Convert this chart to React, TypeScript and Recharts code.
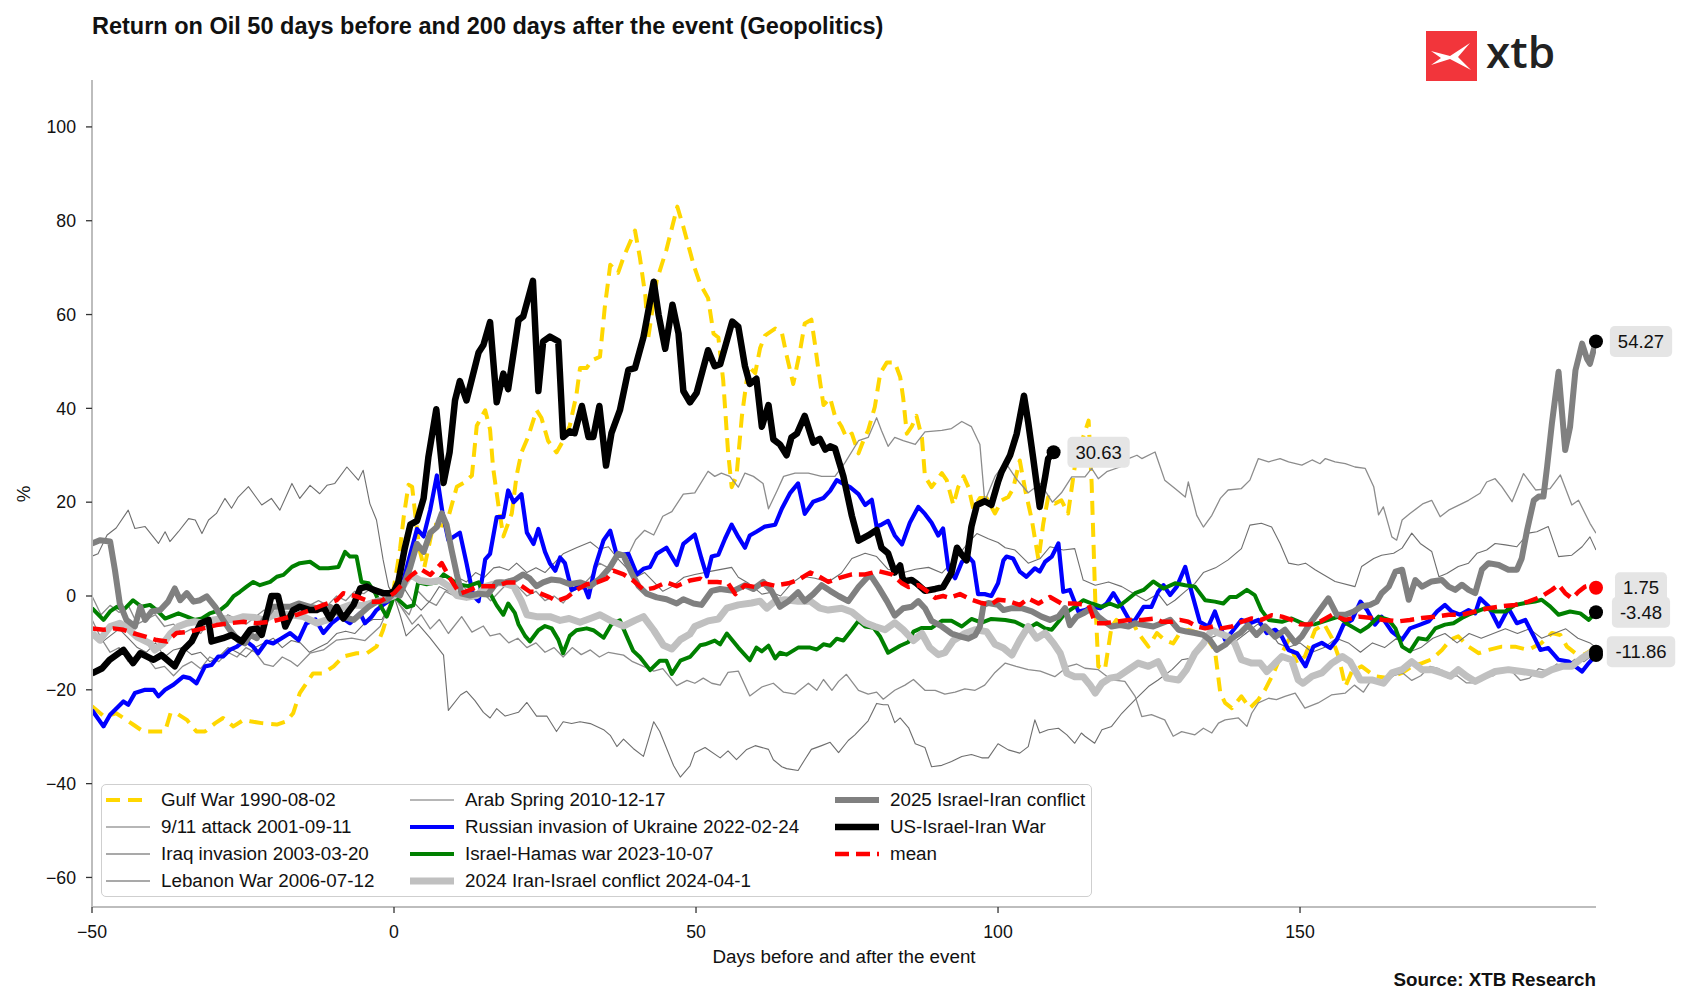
import { LineChart, Line, XAxis, YAxis, Legend, ReferenceDot } from 'recharts'

type Pt = [number, number]

const xTicks = [-50, 0, 50, 100, 150]
const yTicks = [-60, -40, -20, 0, 20, 40, 60, 80, 100]

const gulfWar: Pt[] = [
  [-50, -23.5], [-48, -25.7], [-46, -25], [-44.8, -26], [-43.2, -27.4], [-41.5, -28.9], [-39.8, -28.9], [-37.9, -28.9],
  [-37, -25], [-36, -25], [-34.3, -26.4], [-32.7, -28.9], [-31.3, -28.9], [-29.6, -27.1], [-28.3, -26], [-26.6, -27.8],
  [-24.9, -26.4], [-23.8, -26.7], [-21.9, -27.1], [-19.4, -27.4], [-17.8, -26.7], [-16.7, -25], [-15.6, -20.7], [-14.5, -18.6],
  [-13.4, -16.5], [-11.7, -16.5], [-10, -15], [-8.4, -12.9], [-6.2, -12.2], [-4.5, -12.2], [-2.9, -10.8], [-1.8, -7.2],
  [-0.7, -2.3], [0, 2], [1, 10], [1.6, 16.8], [2.4, 23.7], [3, 23.3], [3.5, 17.6], [4.2, 10], [5, 6], [6, 12], [6.5, 15.2],
  [8, 15], [9, 16.8], [10.4, 23.3], [11.5, 24.1], [12.9, 25.7], [13.7, 36.3], [15.1, 39.6], [15.9, 35.5], [16.4, 27.4],
  [17.3, 19.2], [18.1, 12.7], [19.5, 17.6], [20.3, 25.7], [21.1, 30.6], [22.2, 33.9], [23.6, 39.6], [24.4, 38], [25.5, 33.1],
  [26.9, 30.6], [28, 33.1], [29.1, 36.3], [30.2, 42.9], [30.8, 48.6], [31.9, 48.6], [32.7, 50.2], [34.1, 51], [34.9, 61.6],
  [35.8, 70.6], [37.1, 68.9], [38, 72.2], [39.9, 77.9], [40.7, 72.2], [41.6, 64.1], [42.1, 55.1], [43.5, 67.3], [45.1, 73.8],
  [46.9, 83], [47.9, 78.7], [49.6, 70.6], [50.7, 66.5], [52, 63.5], [52.9, 55.9], [53.7, 55.1], [54.5, 46], [55.3, 30.8],
  [55.9, 23.2], [56.7, 25.5], [57.6, 38.4], [58.7, 49], [59.8, 47.5], [60.6, 52.8], [61.4, 55.5], [63.1, 57], [64.2, 56.2],
  [65, 51.3], [66.1, 45.2], [67.2, 52.1], [68, 58.1], [69.1, 58.9], [69.7, 53.6], [70.5, 46], [71.1, 40.7], [72.2, 42.2],
  [73, 38.4], [74.1, 36.1], [74.9, 33.8], [75.8, 34.6], [76.9, 30.4], [77.7, 33.1], [78.5, 35.3], [79.6, 40.3], [80.5, 47.5],
  [81.6, 49.8], [82.9, 49.8], [83.8, 46.7], [84.3, 42.2], [84.9, 34.6], [85.7, 36.1], [86.5, 38.4], [87.4, 33.8], [87.9, 25.5],
  [89, 23.2], [90.7, 26.2], [91.5, 24.7], [92.6, 19.4], [93.4, 23.2], [94.3, 25.5], [95.1, 23.2], [95.9, 18.6], [97, 20.9],
  [98.1, 20.9], [99.5, 17.6], [100.6, 20.4], [101.7, 21.1], [102.5, 22.9], [103.6, 28.9], [104.5, 22.6], [105.6, 16.2],
  [106.7, 7.7], [107.5, 15.5], [108.3, 21.1], [109.4, 19.7], [110.5, 20.4], [111.6, 17.6], [112.7, 27.5], [114.1, 33.9],
  [115, 37.4], [115.5, 24], [116.1, -0.8], [116.6, -15], [117.7, -15.7], [118.8, -6.5], [119.6, -5.1], [120.7, -6.5],
  [122.1, -5.1], [123.2, -7.9], [124.9, -10.8], [126.3, -7.9], [127.6, -9.4], [129, -10.1], [130.1, -7.9], [131.5, -7.2],
  [133.2, -7.9], [134.8, -9.4], [135.9, -11.5], [136.8, -20.7], [137.6, -22.8], [138.7, -23.9], [140.3, -21.4], [141.7, -23.9],
  [143.1, -22.1], [144.2, -20], [145.6, -16.5], [147, -12.2], [148.1, -9.4], [149.5, -14.3], [150.8, -12.9], [152.5, -7.2],
  [154, -6], [155.3, -9], [156.4, -13], [157.5, -19.3], [158.6, -16], [160.2, -15], [162.4, -17.1], [164.5, -17.5],
  [166.9, -16.4], [168.5, -15], [170.2, -14.3], [171.8, -13.5], [173.5, -11.5], [174.9, -9.3], [176.2, -8.6], [177.9, -10.8],
  [179.6, -12.2], [181.2, -11.5], [183.4, -10.8], [185.6, -10.8], [187.8, -11.5], [190, -10], [191.7, -7.9], [193.1, -8.3],
  [194.2, -10.8], [195.6, -12.2], [197, -12.5], [198.3, -11.5],
]

const attack911: Pt[] = [
  [-50, 8.5], [-49, 9], [-47.5, 13], [-46, 14.5], [-44, 18.3], [-42.9, 14.4], [-41.2, 14.8], [-39, 11.2], [-37.9, 13.7],
  [-37.1, 11.6], [-35.7, 13.7], [-34, 16.5], [-32.9, 16.2], [-31.8, 13.3], [-30.7, 16.2], [-29.4, 17.6], [-28, 20.8],
  [-26.9, 18.7], [-25.8, 21.1], [-24.1, 23.3], [-21.9, 19.4], [-20.3, 20.8], [-18.9, 18.3], [-16.9, 24], [-15.6, 20.8],
  [-13.9, 23.6], [-12.3, 21.8], [-11.1, 23.6], [-9.8, 24], [-7.8, 27.5], [-5.9, 24.7], [-5.1, 26.8], [-4, 19.7], [-2.9, 16.2],
  [-1.8, 7.7], [-0.9, 2], [0, 0], [1, -4], [2, -8.5], [4, -6], [6, -9], [8.2, -12.6], [9, -24.4], [11, -21.1], [12, -20.3],
  [13.4, -22.3], [14.8, -24.8], [15.9, -26], [17, -24], [18.4, -25.6], [20.6, -24.8], [22, -22.7], [23.6, -25.6], [25.3, -25.6],
  [26.9, -28.9], [28, -26.8], [29.4, -27.2], [30.8, -26.8], [32.5, -27.2], [34.7, -28.5], [35.8, -29.7], [36.9, -32.1],
  [38, -30.5], [39.6, -32.5], [41.3, -34.2], [43, -26.8], [44, -28.9], [46.3, -36.2], [47.4, -38.6], [49, -36.2], [49.8, -33.4],
  [51.5, -32.3], [54, -34.5], [55.3, -33], [56.7, -34.9], [58.4, -32.7], [59.8, -31.9], [62, -32.7], [62.8, -34.9],
  [64.2, -36.4], [65, -36.8], [66.9, -37.2], [68, -34.9], [69.1, -32.7], [70.8, -31.9], [72.2, -31.2], [73.6, -33.4],
  [75.2, -30.8], [76.3, -29.6], [77.4, -28.1], [78.5, -26.6], [79.9, -22.9], [81, -23.2], [81.8, -23.2], [82.9, -27],
  [83.8, -26], [85.2, -28.1], [86.3, -31.5], [87.9, -32.3], [89, -36.4], [90.7, -36.1], [92.3, -35.3], [94, -34.2],
  [95.6, -33.8], [97.3, -34.5], [98.4, -34.5], [100, -31.5], [101.7, -32.8], [103.6, -33.5], [105, -32.1], [106.1, -26.4],
  [106.9, -29.2], [108.3, -28.5], [110, -28.2], [111.4, -29.6], [112.7, -31.4], [113.8, -29.2], [114.4, -29.9], [116, -31.4],
  [117.2, -28.5], [118.8, -27.8], [120.5, -25], [122.7, -22.1], [124.9, -19.3], [126.5, -17.9], [128.8, -15.7], [130.4, -13.6],
  [131.8, -13.3], [133.2, -10.8], [135, -9], [137, -8], [139, -10], [141, -8], [143, -6], [144.8, -7.2], [146.4, -10.1],
  [148, -11], [150, -10], [152, -12], [154, -11], [156, -9], [158, -10], [160, -12], [162, -10], [164, -11], [166, -9],
  [168, -12], [170, -11], [172, -9], [174, -8], [176, -10], [178, -8], [180, -9], [182, -8], [184, -7], [186, -8], [188, -7],
  [190, -9], [192, -8], [194, -7], [196, -9], [198, -10], [199, -11],
]

const iraqInvasion: Pt[] = [
  [-50, 0], [-48.5, -4], [-47, -2], [-45.5, -3.5], [-44, -2], [-42.5, -6], [-41, -5], [-39.5, -4], [-38, -6.5], [-36.5, -6],
  [-35, -8], [-33.5, -7], [-32, -8], [-30.5, -5], [-29, -6], [-27.5, -4], [-26, -5], [-24.5, -6], [-23, -4.5], [-21.5, -3],
  [-20, -4], [-18.5, -3], [-17, -2], [-15.5, -3.5], [-14, -2], [-12.5, -1], [-11, -2], [-9.5, 0], [-8, -1], [-6.5, 1],
  [-5, 0.5], [-3.5, 2], [-2, 1], [0, 0], [1, -2], [2.5, -4], [4, 1], [5.5, -1], [7, -2], [8.5, 1], [10, 0], [11.5, 2],
  [13, 0], [14.5, 1], [16, -1], [17.5, 1], [19, 3], [20.5, 2], [22, 0], [23.5, 1], [25, -1], [26.5, 0], [28, -1.5], [29.5, 1],
  [31, 2], [32.5, 4], [34, 7], [35.5, 6], [37, 9], [38.5, 8], [40, 12], [41.5, 14], [43, 13], [44.5, 17], [46, 18],
  [47.9, 21.7], [49.8, 22], [52, 26.6], [53.1, 25.5], [54.2, 26.2], [55.6, 25.5], [57, 23.2], [58.1, 26.2], [59.5, 25.5],
  [61.1, 24], [62, 18.6], [63.4, 22.4], [64.5, 25.5], [66.4, 26.2], [68.6, 26.2], [70.8, 25.5], [73, 25.5], [74.7, 28.5],
  [76.9, 33.1], [78.5, 33.8], [79.9, 38], [80.7, 35.3], [81.8, 31.9], [82.9, 33.8], [84.3, 33.1], [86.3, 32.3], [87.9, 35],
  [90.7, 35.3], [92.3, 35.7], [94, 37.2], [95.6, 36.1], [97, 32.3], [97.8, 20.2], [99.5, 25.5], [101.2, 28.5], [103, 25],
  [105, 22], [107, 24], [109, 20], [110.5, 22], [112.2, 25.4], [114.4, 25.4], [115.5, 27.2], [116.6, 25], [118, 26.5],
  [120.2, 27.5], [121.6, 29.3], [123, 30], [123.8, 29.3], [126, 30.7], [127.6, 24.7], [129.3, 22.9], [131, 21.1],
  [131.5, 24.3], [132.9, 17.2], [134, 14.7], [135.4, 17.2], [136.8, 20.8], [138.1, 22.6], [140.3, 22.9], [141.7, 24.7],
  [143.1, 29.3], [144.8, 28.6], [146.7, 29.3], [148.1, 28.6], [150.3, 27.9], [152, 29], [153.3, 28.2], [154.2, 29.3],
  [155.8, 28.6], [157.5, 28.2], [159.1, 27.5], [160.8, 27.2], [162.2, 23.3], [163, 17.3], [163.8, 19], [165.2, 12.6],
  [166, 11.9], [166.9, 16.2], [168.2, 17.6], [170.4, 19.7], [171.8, 20.4], [173.2, 16.9], [174.6, 18.3], [176.8, 19.7],
  [177.9, 20.4], [179.8, 21.9], [180.9, 24.3], [182.3, 25], [183.4, 23.3], [185.1, 20.1], [187, 26.1], [189, 22.6],
  [191.4, 22.9], [193.1, 25.8], [195, 19.4], [196.1, 20.4], [198, 15.5], [199, 13.4],
]

const lebanonWar: Pt[] = [
  [-50, -5], [-48.5, -9], [-47, -12], [-45.5, -11], [-44, -14], [-42.5, -12.5], [-41, -13], [-39.5, -15.5], [-38, -15],
  [-36.5, -17], [-35, -15], [-33.5, -14], [-32, -15.5], [-30.5, -13], [-29, -14], [-27.5, -12], [-26, -13], [-24.5, -11],
  [-23, -12], [-21.5, -14.5], [-20, -15], [-18.5, -13], [-17, -14], [-16, -15], [-13.9, -12.2], [-11.7, -11.5], [-9.5, -9.4],
  [-7, -9], [-4.8, -9.5], [-2.3, -6.5], [0, 0], [1.5, -3], [3, -6], [4.5, -4], [6, -7], [7.5, -5], [9, -8], [11.2, -4.4],
  [12.9, -7.7], [14.8, -6.4], [15.9, -8.5], [17.5, -8], [19, -10], [20.5, -9], [22, -11], [23.5, -10], [25, -12], [26.5, -11],
  [28, -13], [29.5, -11], [31, -12.5], [32.5, -11.5], [34, -13], [35.5, -12], [38, -12.6], [39.5, -14], [41.3, -15], [43, -16],
  [44.5, -15.5], [46.8, -19.1], [48.5, -18], [49.8, -18.6], [51.2, -17.5], [52.6, -18.6], [54, -19], [55.3, -16.3], [57, -16],
  [58.9, -21.3], [60.9, -19.4], [62.8, -18.6], [64.5, -20.5], [66.4, -20.9], [68.6, -18.6], [70, -20.1], [71.1, -17.8],
  [72.5, -20.1], [73.6, -18.2], [74.9, -16.7], [76.9, -20.1], [78.5, -20.9], [79.9, -20.5], [81, -22], [82.9, -20.1],
  [84.6, -19], [86, -17.8], [87.9, -20.1], [89.6, -20.1], [91.2, -20.9], [92.9, -20.5], [94.5, -19.8], [96.2, -20.1],
  [97.8, -19], [99.5, -16.3], [101.2, -14.3], [103, -15], [105, -15.7], [107, -16], [109.4, -17.2], [111.6, -15], [113, -14.5],
  [114.4, -15.4], [116.6, -15.7], [118.8, -17.9], [121, -18.2], [122.7, -21.4], [123.8, -25.7], [125.4, -25.3], [127.6, -26.4],
  [129, -29.9], [130.4, -28.9], [132.6, -29.6], [134, -28.2], [135.4, -29.2], [136.5, -27.1], [137.6, -26.4], [139.8, -26],
  [141.2, -27.8], [142, -25], [143.1, -22.8], [144.8, -21.8], [146.1, -22.1], [147.5, -21.4], [149.2, -20.7], [150.8, -23.9],
  [153, -22.8], [155.2, -21.1], [157.5, -20.7], [159, -19], [160.5, -20.5], [162, -17.5], [164, -18.5], [165.5, -17],
  [167, -16.4], [168.5, -18], [170, -17], [171.5, -15], [173, -15.5], [174.5, -17.5], [176, -17], [177.5, -18.5], [179, -18.5],
  [180.5, -17], [182, -17], [183.5, -15.5], [185, -16], [186.5, -18], [188, -17.5], [189.5, -15.5], [191, -16], [192.5, -14.5],
  [194, -15], [195.5, -13.5], [197, -14], [198, -13], [199, -13.5],
]

const arabSpring: Pt[] = [
  [-50, -8], [-48.5, -10], [-47, -8.5], [-45.5, -7], [-44, -9], [-42.5, -11], [-41, -12], [-39.5, -10], [-38, -13],
  [-36.5, -11.5], [-35, -11], [-33.5, -12.5], [-32, -12], [-30.5, -14], [-29, -13], [-27.5, -11], [-26, -12], [-24.5, -13],
  [-23, -11], [-21.5, -10], [-20, -9], [-18.5, -11], [-17, -9.5], [-15.5, -10], [-14, -12], [-12.5, -11], [-11, -10],
  [-9.5, -8], [-8, -7.5], [-6.5, -8], [-5, -6], [-3.5, -5], [-2, -5], [0, 0], [1.5, 2], [3, -1], [4.5, -3], [6, -1], [7.5, 2],
  [9, 1], [10.5, 4], [12, 3], [13.5, 5], [15, 4], [16.5, 6], [17.5, 6.2], [19, 5.5], [20.3, 7], [22, 5], [23.5, 6], [25, 5],
  [26.5, 7], [28, 9], [30.2, 10.3], [32.5, 11.5], [34, 10], [35.5, 10.5], [37, 8], [38.5, 6], [40, 4], [41.5, 5], [43, 3],
  [44.5, 1], [46, 2], [48, 4], [49.8, 4.6], [52.6, 5.3], [55.9, 6.1], [57, 4], [58.7, 2.7], [60.9, 0.4], [62.5, 0.8], [64, 0],
  [65.8, 2.7], [67.5, 4.2], [69.7, 3.8], [71.9, 3], [74.1, 4.9], [75.8, 8], [78, 9.1], [79.9, 8.4], [81.8, 5.7], [84.1, 4.9],
  [86.3, 5.7], [88.5, 6.1], [90.7, 4.9], [93, 8], [95.1, 11.4], [96.5, 13.3], [98.4, 12.2], [100, 11.4], [101.2, 10.3],
  [102.8, 9.8], [105, 7], [107, 8], [108.6, 10.5], [110.8, 9.8], [112.7, 10.1], [114.1, 3.4], [116.1, 2.3], [118.3, 3],
  [120.5, 2], [122.5, 0.5], [124.5, -1], [126.5, 0.5], [128, -2], [129.3, -0.9], [131, 1], [132.6, 2.7], [134, 5], [136, 6],
  [138.1, 7.7], [140.3, 10.1], [141.7, 15.1], [143.6, 15.5], [145.3, 14.7], [146.7, 11.2], [148.1, 7], [149.7, 6.6],
  [150.9, 7], [152.5, 5.6], [155.8, 3.1], [159.1, 2], [160.2, 6.3], [162.2, 8], [163.5, 8.7], [165.5, 9.1], [166.9, 10.2],
  [168.5, 13.4], [169.9, 11.2], [171.8, 9.5], [173, 4.1], [174.3, 4.8], [176.2, 6.3], [177.9, 7], [179.3, 9.1], [180.9, 9.8],
  [182.3, 11.2], [184, 10.9], [185.9, 10.5], [187.8, 13.4], [189.2, 13.7], [191.1, 14.8], [192.8, 8.4], [195, 8.7],
  [196.7, 10.5], [198, 12.6], [199, 9.8],
]

const russiaUkraine: Pt[] = [
  [-50, -24.3], [-48.1, -27.8], [-47, -25.3], [-44.8, -22.5], [-44, -23.2], [-42.9, -20.7], [-41.2, -20], [-39.8, -20],
  [-39, -21.4], [-37.9, -20], [-36.5, -18.9], [-34.9, -17.2], [-33.8, -17.5], [-32.7, -18.6], [-31.3, -15], [-30.2, -14.7],
  [-29.1, -12.9], [-28.3, -12.9], [-27.2, -11.5], [-26, -10.8], [-24.7, -9.4], [-23.3, -10.8], [-22.5, -12.2], [-21.1, -9.7],
  [-20, -10.1], [-18.6, -9], [-17.2, -7.9], [-15.8, -9.4], [-14.5, -5.8], [-13, -5], [-11.7, -7.9], [-10.3, -5.8], [-8.9, -4.4],
  [-7.3, -5.8], [-5.6, -3.7], [-4.8, -5.8], [-3.7, -4.4], [-2.9, -3], [-1.8, -1.9], [-0.7, -0.9], [0, 0], [0.4, -0.3], [1.5, 3],
  [2.5, 8], [3.8, 14.3], [4.9, 12.7], [6, 18.4], [7.1, 25.7], [8, 18], [9, 11.9], [10.9, 13.5], [12, 7], [13.1, 0.1],
  [14, -1.1], [15.1, 7.8], [15.9, 9], [17, 16.8], [18.1, 16.8], [18.9, 22.5], [19.8, 20], [21.1, 21.7], [22, 13.5],
  [23.1, 11.1], [23.9, 14.3], [25, 9.4], [25.8, 7], [26.7, 5.4], [27.5, 8.2], [28.3, 7], [29.4, 1.3], [30.8, 2.1], [31.6, 1.7],
  [32.2, -0.3], [33.3, 6.2], [34.7, 11.9], [35.8, 13.9], [36.9, 8.6], [38.8, 9], [40.2, 4.6], [41.3, 5.8], [42.4, 6.2],
  [43.5, 9], [45.1, 10.3], [46.8, 6.6], [47.9, 11.1], [49.8, 13.1], [50.9, 8], [51.8, 4.2], [52.6, 8.4], [53.7, 8.8],
  [54.8, 12.2], [55.9, 15.2], [57, 12.6], [58.1, 10.3], [58.9, 12.9], [60, 13.7], [61.4, 14.8], [63.1, 15.2], [64.2, 18.6],
  [65.6, 22], [66.9, 24], [68, 17.5], [69.4, 20.1], [71.1, 20.9], [72.2, 22.4], [73.3, 24.7], [74.4, 23.9], [75.5, 23.2],
  [76.9, 21.7], [78, 19.4], [79.1, 20.5], [79.9, 14.8], [80.7, 15.2], [81.8, 16], [82.9, 12.9], [84.1, 11], [85.4, 15.6],
  [86.8, 19], [87.9, 17.5], [89, 15.6], [90.1, 12.9], [90.9, 14.4], [91.8, 5.7], [92.9, 3.8], [94, 7.2], [95.1, 8.4],
  [95.9, 7.2], [96.7, 0.4], [97.8, 0.4], [98.9, 0], [100, 2.7], [100.9, 7.6], [101.4, 8.4], [102.5, 8], [103.6, 5.2],
  [104.7, 4.1], [106.1, 5.9], [106.9, 5.2], [107.8, 7.3], [108.9, 8.4], [110, 11.2], [110.8, 0.9], [111.9, 1.3], [113.3, -3.3],
  [114.4, -3], [115.5, -2.3], [116.9, -2.6], [118, -1.6], [119.1, 0.6], [120.5, -2.3], [121.9, -5.5], [122.7, -5.1],
  [124.1, -2.3], [125.4, -2.3], [126.5, 0.9], [127.4, 2.3], [128.5, 0.2], [129.6, 2], [131, 6.2], [132.1, 0.6], [133.4, -5.5],
  [134.8, -6.5], [135.9, -3.3], [137.6, -9.4], [139, -7.2], [140.3, -5.1], [141.7, -5.8], [143.1, -5.1], [144.5, -7.9],
  [145.9, -7.2], [147, -8.7], [148.1, -11.5], [149.5, -12.2], [150.9, -15], [152.2, -10.8], [153.6, -10], [155, -11.1],
  [156.1, -9.3], [157.2, -6.1], [158.6, -5.1], [160, -1.2], [161.1, -3], [162.4, -6.1], [163.5, -4.4], [165.2, -7.6],
  [166.9, -9.3], [168.2, -6.9], [169.9, -6.1], [171.3, -5.4], [172.7, -3.3], [174, -1.9], [175.1, -3.3], [176.5, -4],
  [177.9, -3], [179, -3.7], [179.8, -0.5], [181.2, -2.2], [182.9, -6.5], [184.5, -2.6], [185.9, -5.8], [187.3, -5.1],
  [188.7, -8.6], [189.8, -11.5], [191.1, -11.1], [192.8, -13.6], [194.5, -14], [196.7, -16.1], [197.8, -14.3], [199, -12.6],
]

const israelHamas: Pt[] = [
  [-50, -2.6], [-48.1, -5.1], [-47, -3.3], [-45.9, -2.3], [-44.8, -3], [-43.2, -0.9], [-41.8, -2.3], [-40.4, -1.9], [-39.3, -3],
  [-37.9, -4.8], [-35.7, -3.7], [-34.3, -4.4], [-33, -5.1], [-31.8, -4.8], [-30.5, -3.7], [-28.8, -3], [-27.7, -1.9],
  [-26.6, -0.1], [-25.5, 0.9], [-24.4, 2], [-23.3, 3], [-22.2, 2.3], [-20.5, 3], [-19.4, 4.1], [-18.3, 4.5], [-16.9, 6.2],
  [-15.6, 7], [-13.9, 7.3], [-12.3, 5.9], [-10.9, 5.9], [-9.2, 6.2], [-8.1, 9.4], [-7.3, 8.4], [-6.2, 8.4], [-5.4, 3],
  [-4.2, 2.7], [-3.1, 0.6], [-2, -2.6], [-1.2, -4.4], [-0.4, -1.6], [0, 0], [1, -1.1], [2.1, -2.4], [3.2, -2], [4, 2.9],
  [5.4, 2.5], [7.1, 2.9], [8.2, 4.6], [9.3, 3.7], [10.5, 2.5], [12.3, 2.1], [14, 2.9], [14.8, 0.5], [16, 0.3], [17, -2],
  [18.1, -4], [18.9, -1.6], [20, -3.6], [20.6, -6], [21.7, -8.5], [22.5, -9.7], [23.9, -7.3], [25, -6.4], [26.1, -6.9],
  [27.2, -9.3], [28, -12.2], [29.1, -8.5], [30.2, -7.3], [31.9, -6.9], [33, -7.3], [34.7, -8.9], [36, -6], [37.4, -5.2],
  [38.5, -8.5], [39.6, -11.7], [40.7, -13], [42.4, -15.8], [44, -13.8], [45.1, -13.8], [46, -16.6], [47.4, -13.8], [49, -13],
  [50.7, -10.5], [51.5, -10.3], [53.1, -9.5], [54, -10.3], [55.1, -8], [57, -11], [58.9, -13.7], [60, -11], [60.9, -11.8],
  [62, -10.6], [63.1, -13.3], [63.9, -12.1], [65, -12.5], [66.9, -11], [68.9, -11], [70, -11.4], [71.1, -10.3], [72.2, -10.6],
  [73.3, -9.1], [74.4, -9.5], [75.8, -7.2], [76.9, -5.3], [78, -6.5], [79.4, -6.8], [80.5, -8.7], [81.8, -12.1], [83.8, -10.6],
  [85.2, -9.8], [86, -7.6], [87.4, -6.8], [89, -6.8], [90.7, -5.3], [92.3, -5.3], [94, -6.5], [95.6, -4.9], [97.3, -5.7],
  [98.9, -4.9], [101.2, -5.1], [102.8, -5.5], [103.9, -6.2], [105, -6.9], [106.4, -5.8], [107.8, -6.9], [108.9, -7.2],
  [110, -5.5], [111.1, -3.7], [112.7, -2.3], [114.1, -0.9], [115.5, -1.6], [117.2, -2.3], [118.5, -1.6], [119.9, -2.3],
  [121.3, -0.9], [122.7, 0.6], [124.1, 1.3], [125.7, 3.1], [127.4, 1.6], [129.3, 2.7], [131, 2.3], [132.6, 2], [134.3, -0.9],
  [135.9, -1.2], [137.3, -1.6], [138.4, -0.2], [139.5, -0.2], [141.2, 1.3], [142.5, 0.2], [143.6, -3], [144.8, -5.1],
  [147, -5.5], [148.6, -4.8], [150.9, -6.1], [152.5, -6], [154.7, -5.1], [156.4, -4.4], [158, -6.1], [160, -7.6],
  [161.3, -6.5], [163, -4.4], [164.7, -5.1], [165.8, -6.9], [166.9, -10.8], [168.2, -11.8], [169.6, -9], [171, -9.3],
  [172.4, -6.9], [174, -6.1], [175.4, -5.8], [176.8, -4.7], [177.9, -4], [179.3, -3.3], [180.7, -2.6], [182.3, -3.3],
  [184, -3.3], [185.6, -1.9], [187.3, -1.5], [188.9, -1.2], [190, -0.8], [191.4, -2.2], [192.8, -4], [194.7, -3.3],
  [196.4, -3.7], [197.8, -5.1], [199, -3.48],
]

const iranIsrael2024: Pt[] = [
  [-50, -7.9], [-48.7, -9.4], [-47, -6.5], [-45.4, -5.8], [-44, -7], [-42.6, -8.7], [-40.4, -10.1], [-39.6, -11.5],
  [-38.2, -10.1], [-37, -8], [-35.7, -6.5], [-34.3, -5.8], [-33, -5.5], [-31.6, -5.8], [-29.9, -5.1], [-28.3, -4.8],
  [-26.6, -5.1], [-24.9, -4.4], [-23, -4.6], [-21.6, -5.1], [-19.4, -3.7], [-17.2, -4], [-15, -4.4], [-12.8, -5.8],
  [-11.1, -5.1], [-9.5, -3], [-7.3, -1.9], [-5, -2], [-2.9, -1.2], [0, 0], [1.5, 2.1], [2.7, 4.6], [4.3, 3.3], [6, 3],
  [7.6, 3.3], [9, 2.1], [10.4, 0.1], [12, -0.3], [13.7, 0.1], [15.3, 2.1], [17.6, 2.9], [19.8, 2.1], [21.1, -1.1], [22, -4],
  [23.6, -4.4], [25.8, -4.4], [27.5, -5.2], [29, -4.8], [30.8, -5.6], [32.5, -4.8], [34.1, -4], [35.8, -5.2], [38, -6.4],
  [39.9, -5.2], [41.3, -4.4], [43, -7.3], [44.6, -10.5], [46, -11.3], [47.4, -9.3], [49, -8.1], [49.8, -6.5], [52, -5.3],
  [53.7, -4.9], [55.1, -2.6], [57, -1.9], [59.2, -1.5], [60.6, -1.1], [61.7, -2.6], [63.1, -1.1], [64.7, -0.8], [66.9, -1.1],
  [68.9, -1.1], [70.5, -2.6], [71.9, -3], [74.1, -2.6], [75.8, -3.4], [78, -5.7], [79.6, -6.5], [81.3, -7.2], [82.9, -5.7],
  [84.3, -7.2], [86, -9.5], [87.4, -8], [88.7, -11], [90.1, -12.5], [91.2, -12.1], [92.6, -9.5], [94.5, -8], [96.2, -7.2],
  [98.1, -7.6], [99.5, -10.3], [100.9, -11.1], [102.3, -12.6], [103.6, -9.4], [105, -6.5], [106.4, -9], [107.8, -7.9],
  [109.2, -10.1], [110.3, -12.2], [111.4, -16.5], [112.7, -17.2], [114.1, -17.2], [115.2, -18.9], [116.1, -20.7],
  [117.2, -18.6], [118.5, -17.5], [119.9, -17.2], [121.6, -15.7], [123.2, -14.3], [124.9, -15], [126.5, -14], [127.9, -17.5],
  [129.9, -17.9], [131.2, -15.7], [132.6, -12.2], [134, -10.1], [135.4, -7.2], [136.5, -7.9], [138.1, -8.7], [139.2, -10.1],
  [140.3, -13.6], [142, -14.3], [143.4, -14.3], [144.5, -16.1], [145.9, -14.3], [147, -12.9], [148.6, -13.6], [149.7, -17.9],
  [150.5, -18.6], [152, -17.1], [153.6, -16.4], [155.3, -14.3], [157, -12.9], [158.3, -14], [160, -17.9], [161.9, -17.9],
  [163.8, -18.6], [165.2, -16.4], [166.9, -15.7], [168.5, -14], [170.2, -15.7], [171.8, -15.7], [173.5, -16.4],
  [174.9, -17.1], [176.2, -15.7], [177.6, -17.1], [179, -18.2], [180.7, -17.1], [182.3, -16.1], [184.5, -15.7],
  [186.7, -16.1], [188.4, -16.4], [190, -16.8], [191.7, -15.7], [193.4, -15], [195, -15], [196.7, -13.2], [198, -12.2],
  [199, -11.86],
]

const israelIran2025: Pt[] = [
  [-50, 11.2], [-48.7, 11.9], [-47, 11.6], [-46.2, 5.5], [-45.4, -1.6], [-44.3, -5.1], [-42.9, -6.5], [-42, -2.3],
  [-41.2, -5.1], [-40.1, -3.3], [-38.7, -3], [-37.4, -1.2], [-36.3, 1.6], [-35.4, -0.9], [-34.3, 0.6], [-33.2, -1.2],
  [-32.1, -0.9], [-31, -0.1], [-29.6, -2.3], [-28.3, -5.1], [-27.2, -7.2], [-25.8, -9.4], [-24.7, -10.1], [-23.8, -8.3],
  [-22.7, -9], [-21.6, -5.1], [-20, -2.3], [-18.3, -2.3], [-17.2, -2.3], [-15.8, -1.6], [-13.9, -2.3], [-12, -2.8],
  [-10.6, -2.3], [-8.4, -4.4], [-6.7, -5.1], [-4.2, -2.3], [-2.9, -1.2], [-1.2, -0.9], [0, 0.6], [1, 0.1], [2.7, 6.2],
  [3.8, 11.1], [4.9, 9.4], [6, 13.5], [7.1, 14.7], [7.9, 17.6], [8.7, 15.2], [9.5, 10], [10.4, 4.6], [11.2, 0.5], [12.6, 0.1],
  [14, 0.5], [15.5, 0.3], [17, 2.9], [18.4, 2.9], [20, 3.5], [21.4, 4.6], [22.5, 3.7], [23.6, 2.1], [24.7, 2.9], [26, 3.5],
  [27.5, 3.3], [29.1, 2.5], [30.8, 2.9], [32.5, 2.1], [34.1, 3.7], [35.8, 6.2], [37.1, 9], [38, 8.6], [39.3, 5], [40.5, 2.1],
  [41.8, 0.5], [43.5, -0.3], [45.1, -0.7], [46.8, -1.6], [47.9, -0.7], [49.6, -1.6], [50.9, -1.9], [52.6, 1.1], [54, 1.5],
  [56.2, 1.1], [58.1, 2.3], [59.5, 1.5], [61.1, 3], [62.5, 1.1], [63.9, -2.3], [65.3, -1.1], [66.9, 0.8], [68, -1.1],
  [69.4, 0.4], [70.8, 2.3], [72.2, 1.1], [73.6, 0], [75.2, -1.1], [76.9, 1.9], [78.8, 4.6], [80.2, 1.9], [81.6, -1.1],
  [82.9, -4.2], [84.3, -2.6], [85.7, -2.3], [86.8, -1.1], [87.9, -2.6], [89, -5.3], [90.7, -6.5], [92.3, -8], [94, -8.7],
  [95.1, -9.1], [96.2, -8.4], [97, -6.5], [97.6, -1.9], [98.4, -1.5], [100, -1.9], [100.9, -3], [102.3, -2.6], [103.9, -2.6],
  [105.6, -3.3], [107.2, -4.4], [108.6, -5.1], [110, -4.4], [111.1, -2.6], [111.9, -6.2], [113, -4.4], [114.1, -3.7],
  [115.5, -2.6], [116.6, -4.4], [117.7, -5.5], [118.8, -6.5], [120.2, -6.2], [121.6, -6.5], [122.7, -5.8], [124.3, -6.2],
  [125.7, -6.5], [127.1, -5.8], [128.5, -5.1], [129.9, -7.2], [131.2, -7.6], [132.6, -7.9], [134, -8.3], [135.1, -9.4],
  [136.2, -11.5], [137.6, -10.4], [138.7, -9], [140.1, -7.9], [141.4, -6.2], [142.8, -8.3], [144.2, -6.5], [145.9, -8.7],
  [147.5, -7.2], [149.2, -10], [150.3, -8.6], [151.7, -5.8], [153.1, -3.3], [154.7, -0.5], [156.1, -4], [157.5, -4],
  [158.9, -3.3], [160.2, -2.2], [161.6, -1.9], [162.7, -1.2], [163.5, 0.6], [164.7, 2], [165.8, 5.2], [166.9, 5.6],
  [168, -0.8], [169.1, 3.4], [170.2, 2], [171.8, 3.1], [173.5, 3.4], [174.6, 2], [175.7, 1.3], [176.8, 2.4], [177.9, 1.3],
  [179, 0.6], [180.1, 5.6], [181.2, 7], [182.9, 6.6], [184.5, 5.6], [185.9, 5.6], [186.7, 8], [187.6, 14.1], [188.7, 20.4],
  [189.5, 21.2], [190.3, 21.2], [190.9, 27.5], [191.7, 36.8], [192.8, 47.8], [193.9, 31.1], [194.7, 36], [195.6, 48.1],
  [196.7, 53.8], [197.5, 50.6], [198, 49.5], [198.6, 52.4], [199, 54.27],
]

const usIsraelIran: Pt[] = [
  [-50, -16.5], [-48.3, -15.4], [-47.1, -13.6], [-44.8, -11.5], [-43.2, -14.3], [-42, -12.2], [-39.8, -13.6], [-38.5, -12.6],
  [-36.3, -15], [-34.9, -11.5], [-33.5, -9.7], [-32, -5.8], [-30.7, -5.1], [-30.2, -9.7], [-28.3, -9], [-26.9, -8.3],
  [-25.2, -9.7], [-23.8, -7.2], [-22.7, -6.9], [-21.9, -8.3], [-20.3, 0], [-19.2, 0], [-18, -6.5], [-16.7, -3], [-15.6, -2.3],
  [-13.9, -3], [-12.8, -3], [-11.7, -2.3], [-10.6, -4.8], [-9.5, -2.3], [-8.4, -4.8], [-6.7, -1.9], [-5.6, 1.6], [-4.5, 2],
  [-3.4, 1.3], [-1.8, 0.6], [-0.7, 0.6], [0, 1], [0.7, 2.9], [1.8, 10.3], [2.7, 15.2], [3.8, 16], [4.9, 20.8], [5.7, 29.7],
  [7, 39.8], [8.2, 24.1], [9.2, 30.6], [10.1, 41.7], [10.9, 45.8], [12, 41.7], [14, 51.9], [14.8, 53.5], [15.9, 58.4],
  [17, 41.3], [18.1, 47.4], [18.9, 44.1], [20.6, 58.8], [21.4, 59.6], [23, 67.2], [23.9, 43.7], [24.7, 54.3], [25.8, 55.3],
  [27.2, 54.3], [28, 33.9], [29.1, 35.1], [29.9, 34.7], [31.1, 40.5], [32.2, 33.9], [33, 33.9], [34, 40.5], [35.1, 27.8],
  [36, 34.7], [37.4, 39.6], [38.8, 48.2], [39.9, 48.6], [41.3, 55.2], [43, 67], [43.8, 60], [44.9, 52.7], [46.1, 62.1],
  [47.1, 56], [47.9, 43.7], [49, 41.3], [50.1, 43.3], [52, 52.4], [53.1, 49], [54, 49.4], [56, 58.5], [57, 57.4], [58.1, 49],
  [58.9, 45.2], [60, 46.3], [60.9, 36.1], [62, 40.7], [62.8, 33.4], [63.9, 32.3], [65, 30], [65.8, 33.8], [66.7, 34.6],
  [68, 38.4], [69.4, 32.7], [70.5, 33.5], [71.4, 31.2], [72.2, 31.9], [73, 31.5], [74.4, 25.5], [75.8, 17.1], [76.9, 11.8],
  [78.5, 12.9], [79.9, 14.1], [80.7, 10.3], [81.8, 9.1], [82.9, 5], [83.8, 6.5], [84.3, 3.1], [85.7, 3.4], [86.5, 2.7],
  [87.9, 1.1], [89.6, 1.5], [90.9, 1.9], [92.3, 5], [93.2, 10.3], [94, 8.8], [94.8, 7.6], [95.6, 14.8], [96.5, 19.4],
  [97.8, 20.2], [98.9, 19.4], [100, 24.3], [100.6, 26.5], [102, 30], [103.1, 34.6], [104.3, 42.7], [105, 37], [105.8, 29.6],
  [106.9, 19], [107.8, 25.4], [108.3, 29.3], [109.2, 30.63],
]

const meanReturn: Pt[] = [
  [-50, -6.9], [-48.1, -7.2], [-46.5, -6.9], [-44.8, -7.2], [-43, -8], [-41, -8.7], [-39.3, -9.4], [-37.6, -9.7], [-36, -7.9],
  [-33.8, -7.6], [-31.6, -6.9], [-29.4, -6.2], [-27.2, -5.8], [-24.9, -5.5], [-22.7, -5.8], [-20.5, -5.5], [-18.3, -4.8],
  [-16.1, -4], [-13.9, -3], [-11.7, -1.9], [-9.5, -0.9], [-8.4, 0.6], [-6.2, -0.1], [-4, -1.2], [-2.3, -1.2], [0, 0.6],
  [1, 2], [2.7, 4.2], [4.3, 5.8], [6, 4.5], [7.9, 7], [9.3, 3.7], [10.9, 0.5], [12.6, 1.3], [14, 2.1], [15.3, 2.1], [17, 2.1],
  [18.7, 2.9], [20.3, 2.9], [22.5, 0.9], [23.6, 0.9], [25.8, -0.3], [26.9, -1.1], [28.6, -0.3], [30.2, 1.3], [31.9, 2.5],
  [33.6, 2.9], [35.2, 3.7], [36.3, 5.4], [38, 4.6], [39.6, 3.3], [41.3, 1.3], [43, 1.7], [45.1, 2.9], [46.8, 2.1], [49, 3.3],
  [50.7, 3.7], [51.5, 3], [53.5, 3], [55.3, 2.7], [56.5, 0.4], [58.1, 2.3], [59.8, 1.9], [61.4, 2.7], [63, 2.2], [65.3, 2.7],
  [66.9, 3.4], [68.9, 5], [70.3, 4.2], [71.9, 3], [73.6, 3.8], [75.8, 4.6], [78, 4.6], [80.2, 5.3], [82.4, 4.6], [84.1, 2.7],
  [85.2, 1.9], [86.8, 2.3], [88.5, 0.8], [89.6, -0.4], [90.9, 0], [92, -0.4], [93.7, 0.4], [95.6, -0.8], [97.3, -1.5],
  [98.7, -1.9], [100, -0.8], [101.5, -1], [103.6, -1.9], [105, -0.5], [106.7, -1.6], [108.6, -0.2], [110.5, -1.6],
  [112.5, -1.6], [115, -1.9], [116.1, -5.8], [117.7, -5.8], [119.4, -5.5], [121.6, -5.1], [123.8, -5.1], [126, -4.8],
  [127.1, -5.5], [128.8, -5.5], [130.1, -5.1], [131.5, -5.5], [132.9, -6.5], [134.3, -6.9], [135.6, -6.5], [137, -6.9],
  [138.7, -6.5], [140.3, -5.5], [142, -4.8], [143.6, -5.1], [145.3, -4.1], [147, -4.4], [148.6, -5.1], [150, -6],
  [151.4, -6.1], [153.3, -5.5], [155.3, -4], [157.5, -5.1], [159.7, -4.4], [161.9, -4.7], [163.8, -5.1], [166.3, -5.4],
  [168.2, -5.1], [170.2, -4.7], [172.4, -4.4], [174.6, -4], [176.8, -4], [179, -3.3], [181.2, -2.6], [183.4, -2.2],
  [185.6, -1.9], [187.8, -1.2], [190, -0.1], [191.7, 1.3], [192.8, 2.4], [193.9, 0.6], [195, -0.5], [196.1, 0.9], [197.2, 2],
  [198.3, 2.4], [199, 1.75],
]

const FONT = '"Liberation Sans", Arial, Helvetica, sans-serif'

interface Series {
  name: string
  points: Pt[]
  color: string
  width: number
  dash?: string
}

const series: Series[] = [
  { name: 'Gulf War 1990-08-02', points: gulfWar, color: '#FFD700', width: 4, dash: '14 8' },
  { name: '9/11 attack 2001-09-11', points: attack911, color: '#6e6e6e', width: 1.1 },
  { name: 'Iraq invasion 2003-03-20', points: iraqInvasion, color: '#8c8c8c', width: 1.3 },
  { name: 'Lebanon War 2006-07-12', points: lebanonWar, color: '#8c8c8c', width: 1.3 },
  { name: 'Arab Spring 2010-12-17', points: arabSpring, color: '#6e6e6e', width: 1.1 },
  { name: 'Russian invasion of Ukraine 2022-02-24', points: russiaUkraine, color: '#0000FF', width: 4.2 },
  { name: 'Israel-Hamas war 2023-10-07', points: israelHamas, color: '#008000', width: 4 },
  { name: '2024 Iran-Israel conflict 2024-04-1', points: iranIsrael2024, color: '#C0C0C0', width: 7 },
  { name: '2025 Israel-Iran conflict', points: israelIran2025, color: '#808080', width: 6 },
  { name: 'US-Israel-Iran War', points: usIsraelIran, color: '#000000', width: 6.5 },
  { name: 'mean', points: meanReturn, color: '#FF0000', width: 4.5, dash: '14 7' },
]

const toRows = (pts: Pt[]) => pts.map(([d, v]) => ({ d, v }))
const last = (pts: Pt[]) => pts[pts.length - 1]
const minus = (v: number) => String(v).replace('-', '\u2212')

// rough Arial widths at 18.5px for the value boxes
const textWidth = (s: string) =>
  s.split('').reduce((w, c) => w + (c === '.' ? 5.14 : c === '-' ? 6.16 : 10.29), 0)

function endMarker(fill: string, text?: string) {
  return (p: any) => {
    const { cx, cy } = p
    const w = text ? textWidth(text) + 16 : 0
    const tx = cx + 45
    return (
      <g>
        <circle cx={cx} cy={cy} r={7} fill={fill} />
        {text && (
          <g>
            <rect x={tx - w / 2} y={cy - 15.5} width={w} height={31} rx={5} fill="#e5e5e5" />
            <text x={tx} y={cy} textAnchor="middle" dominantBaseline="central" fontSize={18.5} fontFamily={FONT} fill="#111">
              {text}
            </text>
          </g>
        )}
      </g>
    )
  }
}

const endLabels = [
  { pt: last(usIsraelIran), fill: '#000', text: '30.63' },
  { pt: last(israelIran2025), fill: '#000', text: '54.27' },
  { pt: last(meanReturn), fill: '#FF0000', text: '1.75' },
  { pt: last(israelHamas), fill: '#000', text: '-3.48' },
  { pt: last(russiaUkraine), fill: '#000', text: undefined },
  { pt: last(iranIsrael2024), fill: '#000', text: '-11.86' },
]

const legendCols = [4, 308, 733]
const legendRows = [15, 42, 69, 96]

function LegendBox() {
  return (
    <div
      style={{
        position: 'relative', width: 991, height: 113, boxSizing: 'border-box',
        border: '1.5px solid #cfcfcf', borderRadius: 5, background: '#fff', fontFamily: FONT,
      }}
    >
      {series.map((s, i) => {
        const col = Math.floor(i / 4)
        const row = i % 4
        return (
          <div key={s.name} style={{ position: 'absolute', left: legendCols[col], top: legendRows[row] - 12, height: 24, display: 'flex', alignItems: 'center' }}>
            <svg width={44} height={12} style={{ display: 'block' }}>
              <line x1={0} y1={6} x2={44} y2={6} stroke={s.color} strokeWidth={s.width} strokeDasharray={s.dash} />
            </svg>
            <span style={{ marginLeft: 11, fontSize: 18.8, color: '#111', whiteSpace: 'nowrap' }}>{s.name}</span>
          </div>
        )
      })}
    </div>
  )
}

export default function App() {
  return (
    <div style={{ position: 'absolute', left: 0, top: 0, width: 1684, height: 1006, background: '#fff', fontFamily: FONT, color: '#111' }}>
      <LineChart width={1684} height={1006} margin={{ top: 80, right: 88, bottom: 39, left: 12 }}>
        <XAxis
          dataKey="d"
          type="number"
          domain={[-50, 199]}
          ticks={xTicks}
          height={60}
          tickSize={6}
          tickMargin={12}
          tickFormatter={minus}
          axisLine={{ stroke: '#bdbdbd', strokeWidth: 2 }}
          tickLine={{ stroke: '#333', strokeWidth: 1.3 }}
          tick={{ fontSize: 17.7, fill: '#111', fontFamily: FONT }}
          allowDataOverflow
        />
        <YAxis
          type="number"
          domain={[-66.3, 110]}
          ticks={yTicks}
          width={80}
          tickSize={6}
          tickMargin={10}
          tickFormatter={minus}
          axisLine={{ stroke: '#bdbdbd', strokeWidth: 2 }}
          tickLine={{ stroke: '#333', strokeWidth: 1.3 }}
          tick={{ fontSize: 17.7, fill: '#111', fontFamily: FONT }}
          allowDataOverflow
        />
        {series.map((s) => (
          <Line
            key={s.name}
            data={toRows(s.points)}
            dataKey="v"
            name={s.name}
            type="linear"
            stroke={s.color}
            strokeWidth={s.width}
            strokeDasharray={s.dash}
            strokeLinejoin="round"
            dot={false}
            activeDot={false}
            isAnimationActive={false}
          />
        ))}
        {endLabels.map((e, i) => (
          <ReferenceDot key={i} x={e.pt[0]} y={e.pt[1]} r={7} shape={endMarker(e.fill, e.text)} />
        ))}
        <Legend
          verticalAlign="middle"
          layout="horizontal"
          wrapperStyle={{ left: 101, top: 784, width: 991, height: 113 }}
          content={() => <LegendBox />}
        />
      </LineChart>

      <div style={{ position: 'absolute', left: 92, top: 12, fontSize: 23.5, lineHeight: '28px', fontWeight: 'bold', whiteSpace: 'nowrap' }}>
        Return on Oil 50 days before and 200 days after the event (Geopolitics)
      </div>

      <svg style={{ position: 'absolute', left: 1426, top: 31 }} width={51} height={50}>
        <rect x={0} y={0} width={51} height={50} fill="#F2353B" />
        <polygon points="5,20 24,25 44,12 32,26 45,39 24,28 5,34 15,27" fill="#fff" />
      </svg>
      <div style={{ position: 'absolute', left: 1486, top: 29, fontSize: 44, lineHeight: '44px', fontWeight: 600, color: '#222', fontFamily: '"Open Sans", sans-serif' }}>
        xtb
      </div>

      <div style={{ position: 'absolute', left: 12, top: 482, width: 24, height: 24, lineHeight: '24px', textAlign: 'center', fontSize: 18.8, transform: 'rotate(-90deg)' }}>
        %
      </div>
      <div style={{ position: 'absolute', left: 92, width: 1504, top: 945, lineHeight: '24px', textAlign: 'center', fontSize: 18.8 }}>
        Days before and after the event
      </div>
      <div style={{ position: 'absolute', right: 88, top: 968, lineHeight: '24px', fontSize: 18.8, fontWeight: 'bold' }}>
        Source: XTB Research
      </div>
    </div>
  )
}
